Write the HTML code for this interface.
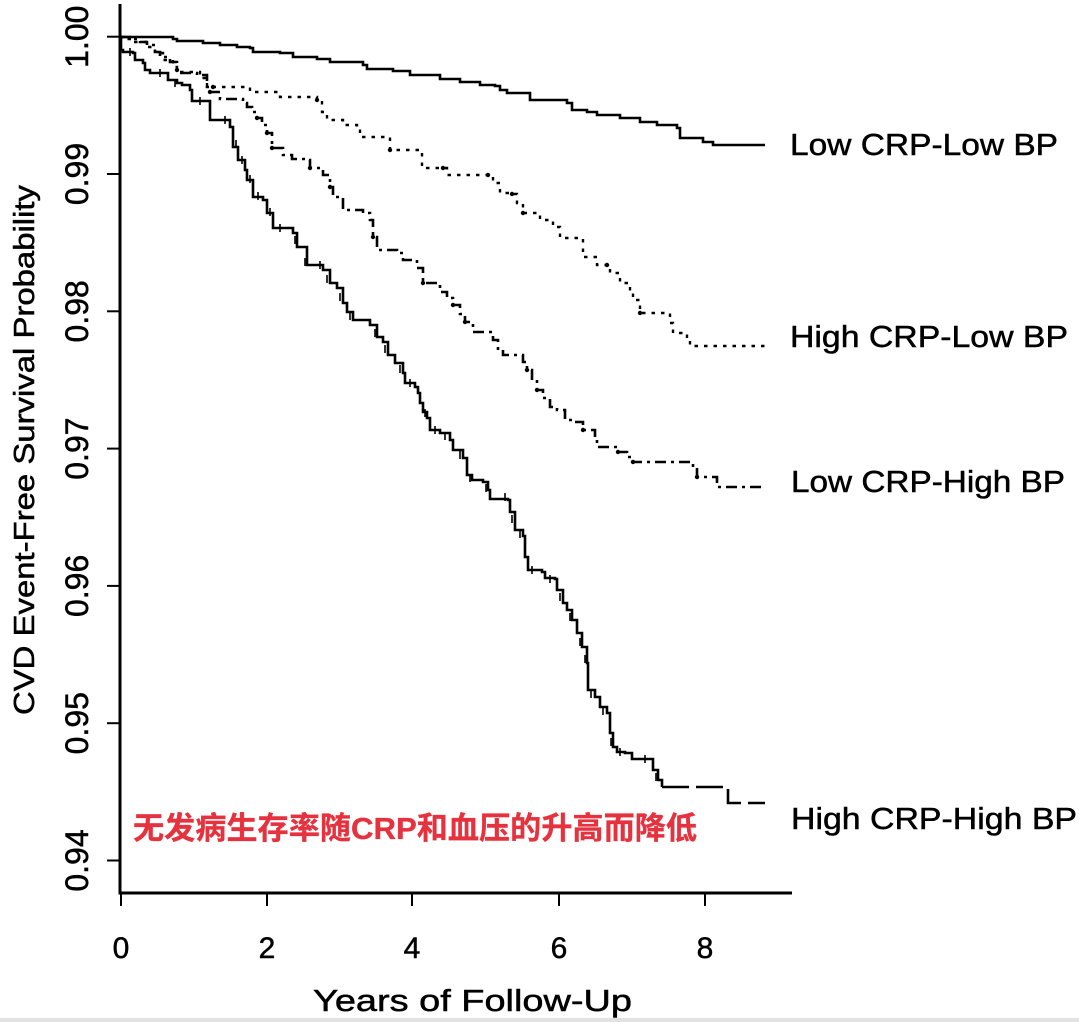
<!DOCTYPE html>
<html>
<head>
<meta charset="utf-8">
<style>
  html, body { margin:0; padding:0; background:#ffffff; }
  body { width:1079px; height:1022px; overflow:hidden; }
  svg { display:block; }
  text { font-family: "Liberation Sans", Arial, sans-serif; fill:#000; }
  .bk { stroke:#000; stroke-width:0.5; }
</style>
</head>
<body>
<svg width="1079" height="1022" viewBox="0 0 1079 1022" xmlns="http://www.w3.org/2000/svg">
  <rect x="0" y="0" width="1079" height="1022" fill="#ffffff"/>
  <rect x="0" y="1018" width="1079" height="4" fill="#e2e2e2"/>

  <!-- Axes -->
  <line x1="120" y1="4" x2="120" y2="894.5" stroke="#000" stroke-width="3"/>
  <line x1="118.5" y1="893" x2="792" y2="893" stroke="#000" stroke-width="3"/>

  <!-- Y ticks -->
  <g stroke="#000" stroke-width="2">
    <line x1="107" y1="36.7" x2="120" y2="36.7"/>
    <line x1="107" y1="174" x2="120" y2="174"/>
    <line x1="107" y1="311.3" x2="120" y2="311.3"/>
    <line x1="107" y1="448.6" x2="120" y2="448.6"/>
    <line x1="107" y1="585.9" x2="120" y2="585.9"/>
    <line x1="107" y1="723.2" x2="120" y2="723.2"/>
    <line x1="107" y1="860.5" x2="120" y2="860.5"/>
  </g>
  <!-- X ticks -->
  <g stroke="#000" stroke-width="2">
    <line x1="121" y1="893" x2="121" y2="906"/>
    <line x1="267" y1="893" x2="267" y2="906"/>
    <line x1="412" y1="893" x2="412" y2="906"/>
    <line x1="559" y1="893" x2="559" y2="906"/>
    <line x1="705" y1="893" x2="705" y2="906"/>
  </g>

  <!-- Y tick labels -->
  <g font-size="32" text-anchor="middle" class="bk">
    <text class="bk" transform="translate(88,36.7) rotate(-90)">1.00</text>
    <text class="bk" transform="translate(88,174) rotate(-90)">0.99</text>
    <text class="bk" transform="translate(88,311.3) rotate(-90)">0.98</text>
    <text class="bk" transform="translate(88,448.6) rotate(-90)">0.97</text>
    <text class="bk" transform="translate(88,585.9) rotate(-90)">0.96</text>
    <text class="bk" transform="translate(88,723.2) rotate(-90)">0.95</text>
    <text class="bk" transform="translate(88,860.5) rotate(-90)">0.94</text>
  </g>

  <!-- Y axis title -->
  <text class="bk" transform="translate(34,450) rotate(-90)" font-size="29" text-anchor="middle" textLength="530" lengthAdjust="spacingAndGlyphs">CVD Event-Free Survival Probability</text>

  <!-- X tick labels -->
  <g font-size="30" text-anchor="middle">
    <text class="bk" x="121" y="958">0</text>
    <text class="bk" x="267" y="958">2</text>
    <text class="bk" x="412" y="958">4</text>
    <text class="bk" x="559" y="958">6</text>
    <text class="bk" x="705" y="958">8</text>
  </g>

  <!-- X axis title -->
  <text class="bk" x="313" y="1011" font-size="31" textLength="319" lengthAdjust="spacingAndGlyphs">Years of Follow-Up</text>

  <!-- Low CRP-Low BP (solid) -->
  <path fill="none" stroke="#000" stroke-width="2.6" stroke-linejoin="miter"
    d="M120 37 H173 V39 H177 V41 H203 V43 H220 V45 H237 V47 H250 V48 H253 V52 H280 V53 H293 V57 H317 V59 H330 V62 H363 V65 H367 V69 H393 V71 H410 V75 H440 V79 H460 V82 H480 V85 H495 V86 H500 V90 H507 V93 H530 V100 H567 V103 H572 V110 H587 V112 H597 V115 H620 V118 H640 V122 H657 V125 H677 V128 H680 V138 H703 V142 H713 V145 H765"/>

  <!-- High CRP-Low BP (dotted) -->
  <path fill="none" stroke="#000" stroke-width="2.4" stroke-dasharray="3.5 6"
    d="M120 37 H126 V39 H133 V42 H147 V47 H155 V53 H163 V60 H173 V67 H177 V72 H200 V78 H207 V87 H250 V92 H280 V97 H317 V100 H322 V112 H327 V120 H343 V125 H357 V127 H360 V137 H387 V137 H390 V150 H417 V150 H422 V168 H443 V168 H447 V175 H488 V175 H493 V183 H500 V193 H512 V194 H517 V203 H523 V213 H537 V213 H540 V220 H553 V227 H560 V238 H582 V239 H583 V257 H597 V265 H607 V265 H610 V273 H620 V283 H630 V292 H633 V300 H640 V313 H662 V313 H670 V323 H673 V333 H687 V338 H690 V346 H765"/>
  <g fill="#000">
    <circle cx="213" cy="87" r="2.2"/><circle cx="317" cy="100" r="2.2"/>
    <circle cx="390" cy="150" r="2.2"/><circle cx="443" cy="168" r="2.2"/>
    <circle cx="488" cy="175" r="2.2"/><circle cx="512" cy="194" r="2.2"/>
    <circle cx="523" cy="213" r="2.2"/><circle cx="607" cy="265" r="2.2"/>
    <circle cx="640" cy="313" r="2.2"/>
  </g>

  <!-- Low CRP-High BP (dash-dot) -->
  <path fill="none" stroke="#000" stroke-width="2.6" stroke-dasharray="11 5 3 5"
    d="M120 37 H130 V39 H140 V42 H147 V45 H155 V52 H160 V57 H170 V62 H177 V67 V73 H197 V75 H207 V87 H210 V92 H220 V99 H238 V99 H243 V103 H247 V107 H252 V112 H257 V118 H262 V125 H267 V133 H272 V148 H283 V155 H292 V159 H307 V160 H310 V168 H323 V175 H330 V187 H333 V197 H343 V210 H363 V213 H370 V220 H373 V237 H377 V250 H397 V253 H403 V260 H417 V268 H423 V283 H440 V292 H447 V298 H453 V305 H460 V314 H465 V322 H473 V332 H487 V332 H493 V340 H498 V350 H503 V355 H520 V355 H523 V362 H527 V370 H532 V380 H537 V390 H543 V398 H550 V407 H557 V410 H565 V420 H575 V422 H583 V430 H595 V437 H597 V447 H613 V447 H618 V452 H627 V457 H633 V462 H688 V462 H693 V467 H697 V477 H713 V477 H717 V487 H765"/>
  <g fill="#000">
    <circle cx="177" cy="70" r="2.2"/><circle cx="210" cy="92" r="2.2"/>
    <circle cx="257" cy="118" r="2.2"/><circle cx="267" cy="133" r="2.2"/>
    <circle cx="272" cy="148" r="2.2"/><circle cx="310" cy="168" r="2.2"/>
    <circle cx="330" cy="187" r="2.2"/><circle cx="373" cy="237" r="2.2"/>
    <circle cx="423" cy="283" r="2.2"/><circle cx="453" cy="305" r="2.2"/>
    <circle cx="465" cy="322" r="2.2"/><circle cx="527" cy="370" r="2.2"/>
    <circle cx="537" cy="390" r="2.2"/><circle cx="583" cy="430" r="2.2"/>
    <circle cx="618" cy="452" r="2.2"/><circle cx="633" cy="462" r="2.2"/>
    <circle cx="697" cy="477" r="2.2"/>
  </g>

  <!-- High CRP-High BP (solid w/ censor marks, dashed tail) -->
  <path fill="none" stroke="#000" stroke-width="2.6"
    d="M120 37 H121 V50 H123 V52 H133 V53 H135 V60 H143 V63 H145 V70 H150 V73 H165 V73 H168 V80 H177 V83 H182 V85 H190 V90 H192 V101 H208 V101 H210 V120 H227 V120 H230 V127 H233 V147 H238 V160 H245 V170 H247 V180 H253 V183 V197 H263 V200 H267 V213 H273 V223 V228 H287 V228 H293 V233 H297 V247 H307 V253 V265 H318 V265 H323 V270 H330 V283 H337 V288 H343 V303 H347 V312 H353 V320 H363 V320 H370 V325 H377 V337 H383 V342 H388 V355 H395 V363 H403 V373 H405 V383 H415 V387 H418 V393 H420 V403 H423 V412 H427 V418 H430 V430 H440 V433 H450 V440 H453 V450 H463 V458 H467 V475 H472 V480 H483 V482 H488 V490 H490 V499 H508 V500 H510 V512 H515 V530 H523 V536 H525 V557 H528 V570 H542 V572 H545 V578 H555 V579 H557 V590 H563 V603 H567 V610 H572 V620 H577 V633 H582 V647 H587 V663 H588 V690 H595 V697 H600 V707 H607 V713 H610 V733 H613 V747 H617 V752 H625 V753 H632 V759 H652 V759 H653 V770 H658 V780 H662 V787"/>
  <path fill="none" stroke="#000" stroke-width="2.6" stroke-dasharray="27 7"
    d="M662 787 H728 V803 H765"/>
  <!-- censor tick marks on HH -->
  <g stroke="#000" stroke-width="1.6">
    <path d="M130 48v8M160 69v8M175 79v8M200 97v8M225 116v8M236 140v8M242 156v8M250 175v8M258 192v8M270 208v8M280 224v8M295 236v8M305 258v8M320 261v8M327 275v8M340 293v8M350 312v8M375 329v8M385 345v8M400 365v8M410 379v8M425 409v8M435 426v8M445 432v8M460 451v8M470 474v8M486 484v8M505 493v8M512 515v8M520 530v8M532 566v8M550 575v8M560 593v8M570 613v8M580 638v8M585 655v8M591 690v8M603 707v8M611 738v8M620 748v8M645 755v8M656 773v8"/>
  </g>

  <!-- Curve labels -->
  <g font-size="31">
    <text class="bk" x="790" y="155" textLength="268" lengthAdjust="spacingAndGlyphs">Low CRP-Low BP</text>
    <text class="bk" x="790" y="347" textLength="278" lengthAdjust="spacingAndGlyphs">High CRP-Low BP</text>
    <text class="bk" x="791" y="492" textLength="274" lengthAdjust="spacingAndGlyphs">Low CRP-High BP</text>
    <text class="bk" x="791" y="829" textLength="286" lengthAdjust="spacingAndGlyphs">High CRP-High BP</text>
  </g>

  <!-- Red annotation -->
  <text x="133" y="839" font-size="31" font-weight="bold" textLength="564" lengthAdjust="spacingAndGlyphs"
    style="fill:#e5323e; stroke:#e5323e; stroke-width:0.3; font-family:'Liberation Sans','Noto Sans CJK SC','WenQuanYi Zen Hei',sans-serif;">无发病生存率随CRP和血压的升高而降低</text>
</svg>
</body>
</html>
